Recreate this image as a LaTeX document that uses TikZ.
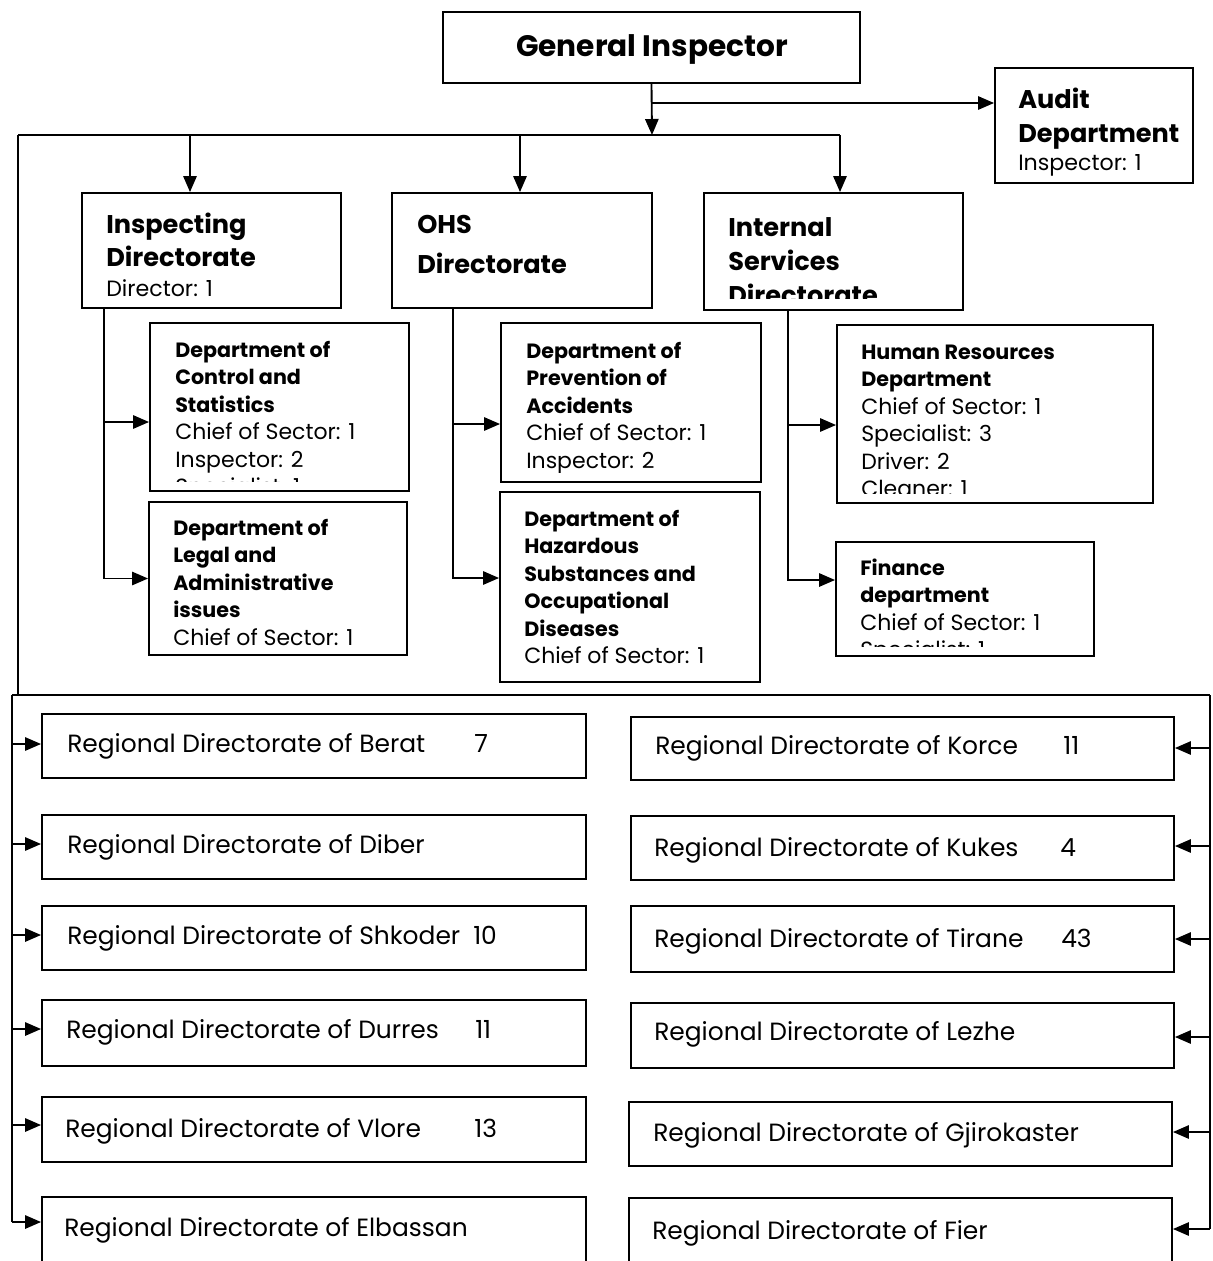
\documentclass[tikz,border=0pt]{standalone}
\usepackage{fontspec}
\setmainfont{Poppins}
\usetikzlibrary{arrows.meta,fit}
\newcommand\deptb[1]{{\fontsize{15.5}{20.6}\selectfont\bfseries #1}}
\tikzset{
 box/.style={draw, line width=1.4pt, inner sep=0pt},
 conn/.style={line width=1.4pt},
 arr/.style={line width=1.4pt, -{Triangle[length=12pt,width=10pt]}},
 txt/.style={anchor=base west, inner sep=0pt, align=left},
 hdr/.style={txt, font=\bfseries\fontsize{19.2}{24.75}\selectfont},
 hdrw/.style={txt, font=\bfseries\fontsize{19.2}{30}\selectfont},
 hdri/.style={txt, font=\bfseries\fontsize{19.2}{25.5}\selectfont},
 dep/.style={txt, font=\fontsize{16.5}{20.6}\selectfont},
 reg/.style={txt, font=\fontsize{18.7}{22}\selectfont},
 sml/.style={txt, font=\fontsize{16.6}{20}\selectfont},
 cut/.style={yshift=7.5pt},
}
\begin{document}
\begin{tikzpicture}[x=0.75pt,y=-0.75pt]
\clip (0,0) rectangle (1213,1261);
\fill[white] (0,0) rectangle (1213,1261);

% top
\node[box, fit={(443,12)(860,83)}] (gi) {};
\node[anchor=base, inner sep=0pt, font=\bfseries\fontsize{22.2}{26}\selectfont] (git) at (652,56) {General Inspector};

\node[box, fit={(995,68)(1193,183)}] (aud) {};
\node[hdri] (audT) at (1018,142) {Audit\\Department};
\node[sml] (audI) at (1018,170) {Inspector: 1};

% directorates
\node[box, fit={(82,193)(341,308)}] (ins) {};
\node[hdr] (insT) at (106,266) {Inspecting\\Directorate};
\node[sml] (insD) at (106,296) {Director: 1};

\node[box, fit={(392,193)(652,308)}] (ohs) {};
\node[hdrw] (ohsT) at (417,273) {OHS\\Directorate};

\node[box, fit={(704,193)(963,310)}] (isd) {};
\begin{scope}
\clip ([yshift=9pt]isd.south west) rectangle (isd.north east);
\node[hdri] (isdT) at (728,304) {Internal\\Services\\Directorate};
\end{scope}

% departments
\node[box, fit={(150,323)(409,491)}] (cs) {};
\begin{scope}
\clip ([cut]cs.south west) rectangle (cs.north east);
\node[dep] (csT) at (175,494.5) {\deptb{Department of}\\\deptb{Control and}\\\deptb{Statistics}\\Chief of Sector: 1\\Inspector: 2\\Specialist: 1};
\end{scope}

\node[box, fit={(149,502)(407,655)}] (leg) {};
\begin{scope}
\clip ([cut]leg.south west) rectangle (leg.north east);
\node[dep] (legT) at (173,645) {\deptb{Department of}\\\deptb{Legal and}\\\deptb{Administrative}\\\deptb{issues}\\Chief of Sector: 1};
\end{scope}

\node[box, fit={(501,323)(761,482)}] (pre) {};
\begin{scope}
\clip ([cut]pre.south west) rectangle (pre.north east);
\node[dep] (preT) at (526,468) {\deptb{Department of}\\\deptb{Prevention of}\\\deptb{Accidents}\\Chief of Sector: 1\\Inspector: 2};
\end{scope}

\node[box, fit={(500,492)(760,682)}] (haz) {};
\begin{scope}
\clip ([cut]haz.south west) rectangle (haz.north east);
\node[dep] (hazT) at (524,663.5) {\deptb{Department of}\\\deptb{Hazardous}\\\deptb{Substances and}\\\deptb{Occupational}\\\deptb{Diseases}\\Chief of Sector: 1};
\end{scope}

\node[box, fit={(837,325)(1153,503)}] (hr) {};
\begin{scope}
\clip ([cut]hr.south west) rectangle (hr.north east);
\node[dep] (hrT) at (861,496.5) {\deptb{Human Resources}\\\deptb{Department}\\Chief of Sector: 1\\Specialist: 3\\Driver: 2\\Cleaner: 1};
\end{scope}

\node[box, fit={(836,542)(1094,656)}] (fin) {};
\begin{scope}
\clip ([cut]fin.south west) rectangle (fin.north east);
\node[dep] (finT) at (860,657.5) {\deptb{Finance}\\\deptb{department}\\Chief of Sector: 1\\Specialist: 1};
\end{scope}

% regional boxes left
\node[box, fit={(42,714)(586,778)}] (rb1) {};
\node[box, fit={(42,815)(586,879)}] (rb2) {};
\node[box, fit={(42,906)(586,970)}] (rb3) {};
\node[box, fit={(42,1000)(586,1066)}] (rb4) {};
\node[box, fit={(42,1097)(586,1162)}] (rb5) {};
\node[box, fit={(42,1197)(586,1280)}] (rb6) {};
\node[reg] (rb1t) at (67,752) {Regional Directorate of Berat};
\node[reg] (rb1n) at (474,752) {7};
\node[reg] (rb2t) at (67,853) {Regional Directorate of Diber};
\node[reg] (rb3t) at (67,944) {Regional Directorate of Shkoder};
\node[reg] (rb3n) at (473,944) {10};
\node[reg] (rb4t) at (66,1038) {Regional Directorate of Durres};
\node[reg] (rb4n) at (475,1038) {11};
\node[reg] (rb5t) at (65,1137) {Regional Directorate of Vlore};
\node[reg] (rb5n) at (474,1137) {13};
\node[reg] (rb6t) at (64,1236) {Regional Directorate of Elbassan};

% regional boxes right
\node[box, fit={(631,717)(1174,780)}] (rr1) {};
\node[box, fit={(631,816)(1174,880)}] (rr2) {};
\node[box, fit={(631,906)(1174,972)}] (rr3) {};
\node[box, fit={(631,1003)(1174,1068)}] (rr4) {};
\node[box, fit={(629,1102)(1172,1166)}] (rr5) {};
\node[box, fit={(629,1198)(1172,1280)}] (rr6) {};
\node[reg] (rr1t) at (655,754) {Regional Directorate of Korce};
\node[reg] (rr1n) at (1063,754) {11};
\node[reg] (rr2t) at (654,856) {Regional Directorate of Kukes};
\node[reg] (rr2n) at (1060,856) {4};
\node[reg] (rr3t) at (654,947) {Regional Directorate of Tirane};
\node[reg] (rr3n) at (1061,947) {43};
\node[reg] (rr4t) at (654,1040) {Regional Directorate of Lezhe};
\node[reg] (rr5t) at (653,1141) {Regional Directorate of Gjirokaster};
\node[reg] (rr6t) at (652,1239) {Regional Directorate of Fier};

% connectors top
\coordinate (busC) at (652,135);
\coordinate (audJ) at (652,103);
\draw[arr] (gi.south) -- (busC);
\draw[arr] (audJ) -- (aud.west |- audJ);
\draw[conn] (18,135) -- (840,135);
\draw[arr] (190,135) -- (ins.north -| 190,0);
\draw[arr] (520,135) -- (ohs.north -| 520,0);
\draw[arr] (840,135) -- (isd.north -| 840,0);

% directorate spines
\draw[arr] (ins.south -| 104,0) |- (leg.west);
\draw[arr] (104,422) -- (cs.west |- 104,422);
\draw[arr] (ohs.south -| 453,0) |- (haz.west |- 453,578);
\draw[arr] (453,424) -- (pre.west |- 453,424);
\draw[arr] (isd.south -| 788,0) |- (fin.west |- 788,580);
\draw[arr] (788,425) -- (hr.west |- 788,425);

% regional bus
\draw[conn] (18,135) -- (18,695);
\draw[conn] (12,695) -- (1210,695);
\draw[conn] (12,695) -- (12,1222);
\draw[conn] (1210,695) -- (1210,1229);
\draw[arr] (12,744) -- (rb1.west |- 12,744);
\draw[arr] (12,844) -- (rb2.west |- 12,844);
\draw[arr] (12,935) -- (rb3.west |- 12,935);
\draw[arr] (12,1029) -- (rb4.west |- 12,1029);
\draw[arr] (12,1125) -- (rb5.west |- 12,1125);
\draw[arr] (12,1222) -- (rb6.west |- 12,1222);
\draw[arr] (1210,748) -- (rr1.east |- 1210,748);
\draw[arr] (1210,846) -- (rr2.east |- 1210,846);
\draw[arr] (1210,939) -- (rr3.east |- 1210,939);
\draw[arr] (1210,1037) -- (rr4.east |- 1210,1037);
\draw[arr] (1210,1132) -- (rr5.east |- 1210,1132);
\draw[arr] (1210,1229) -- (rr6.east |- 1210,1229);
\end{tikzpicture}
\end{document}
